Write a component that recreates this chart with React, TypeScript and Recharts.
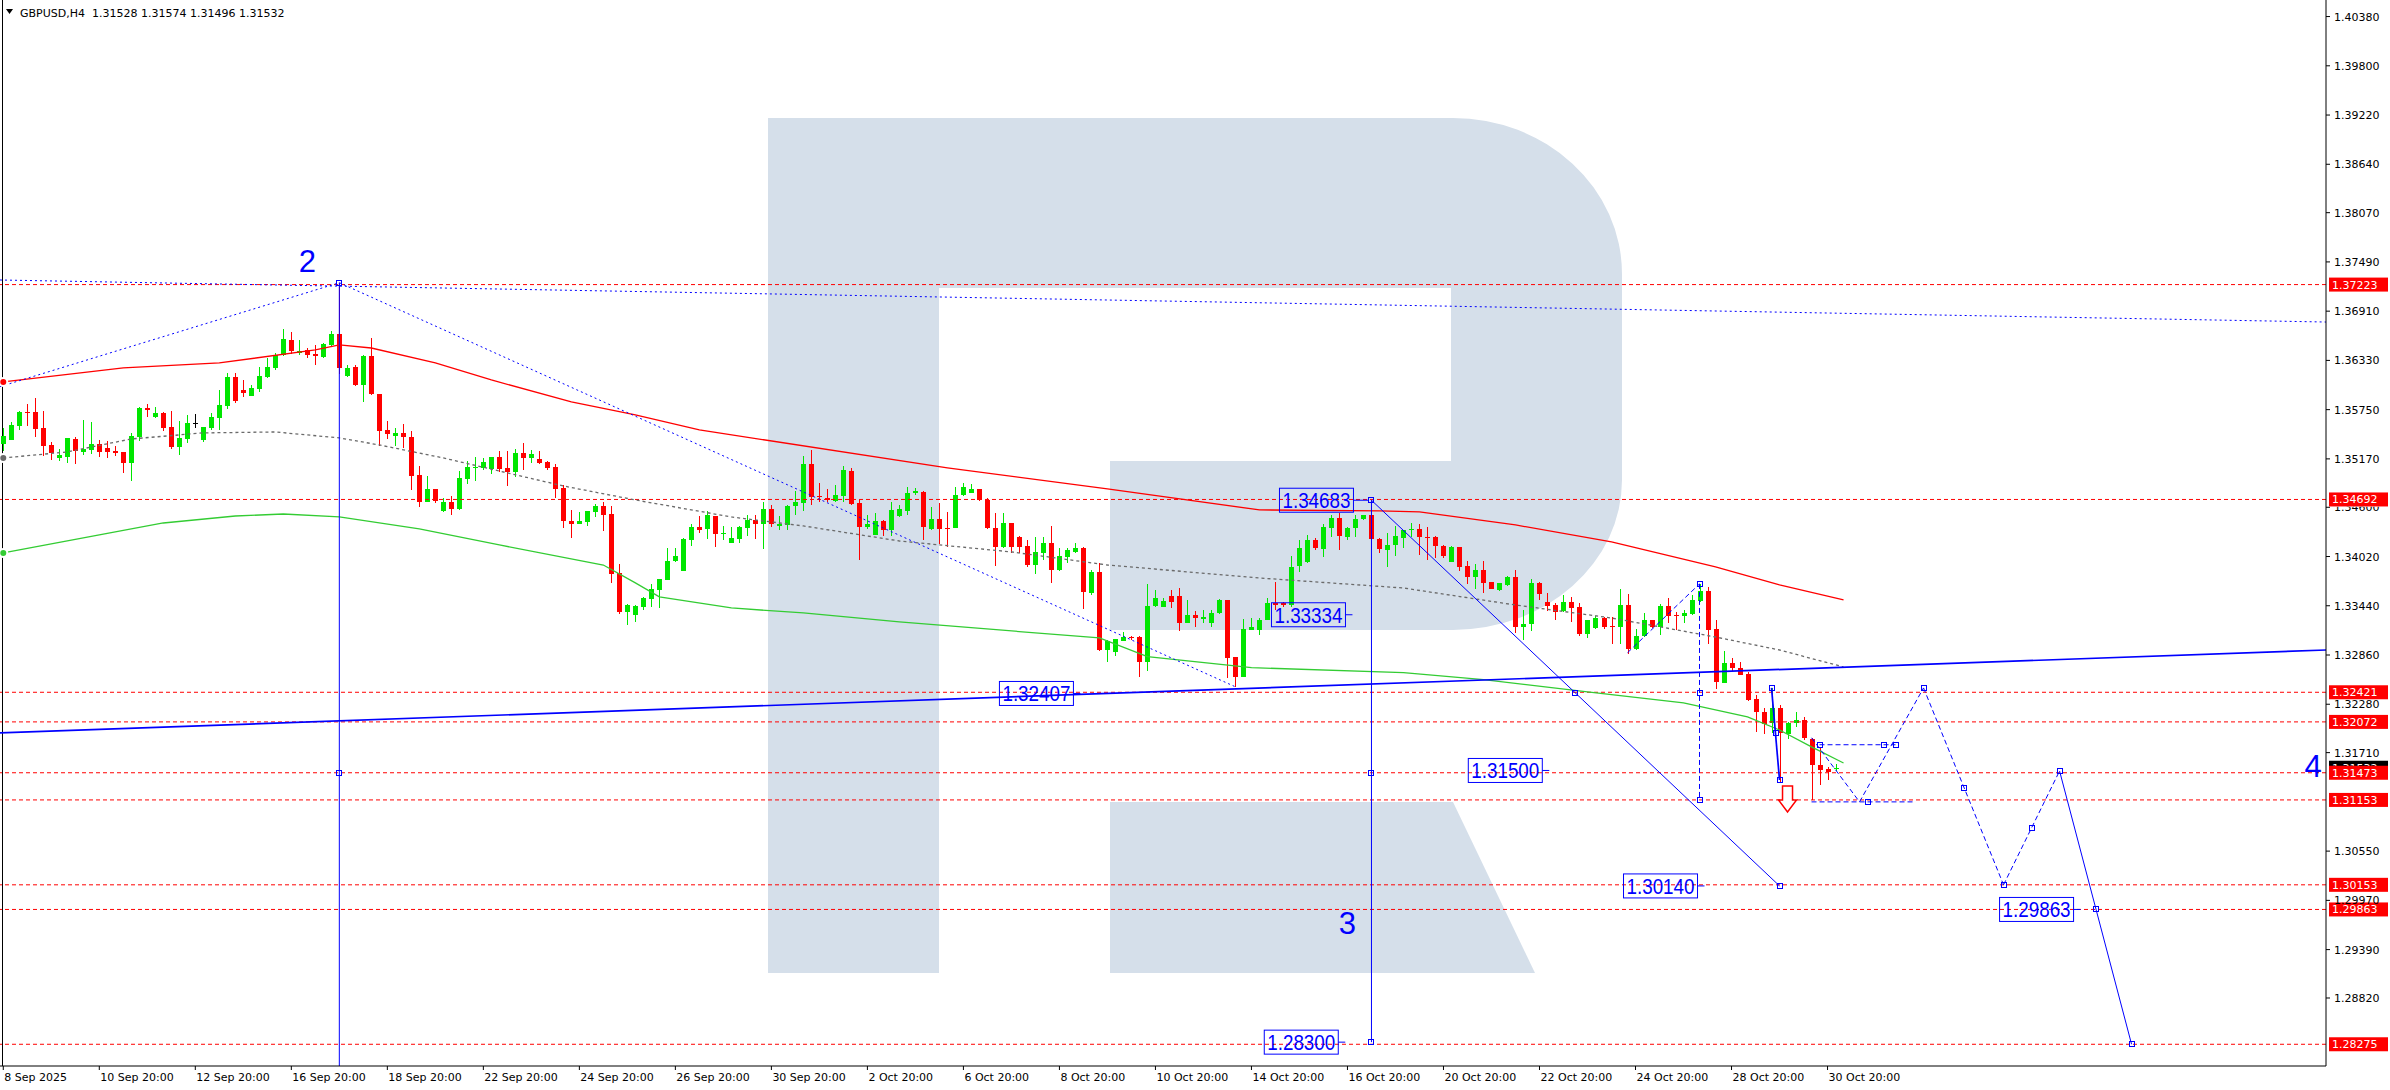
import React from "react";
import { ComposedChart, Bar, Line, XAxis, YAxis, ReferenceLine, ReferenceDot } from "recharts";

const OPEN = [
  1.35346,1.35393,1.35562,1.35723,1.35723,1.35534,1.35334,1.35184,1.35196,1.35400,
  1.35255,1.35279,1.35346,1.35298,1.35263,1.35251,1.35125,1.35432,1.35770,1.35668,
  1.35711,1.35546,1.35310,1.35408,1.35589,1.35393,1.35534,1.35656,1.35795,1.36137,
  1.35980,1.35913,1.35991,1.36137,1.36243,1.36384,1.36569,1.36412,1.36451,1.36404,
  1.36373,1.36510,1.36640,1.36145,1.36247,1.36038,1.36380,1.35932,1.35508,1.35429,
  1.35469,1.35428,1.34980,1.34665,1.34815,1.34559,1.34661,1.34579,1.34933,1.35066,
  1.35066,1.35051,1.35192,1.35062,1.35019,1.35239,1.35184,1.35168,1.35133,1.35074,
  1.34826,1.34441,1.34406,1.34426,1.34544,1.34614,1.34520,1.33824,1.33365,1.33329,
  1.33427,1.33518,1.33624,1.33742,1.33966,1.33852,1.34213,1.34367,1.34343,1.34500,
  1.34284,1.34182,1.34229,1.34359,1.34449,1.34406,1.34579,1.34379,1.34390,1.34614,
  1.34654,1.35109,1.34732,1.34709,1.34677,1.34736,1.35027,1.34650,1.34371,1.34272,
  1.34437,1.34335,1.34497,1.34556,1.34764,1.34776,1.34340,1.34458,1.34360,1.34360,
  1.34745,1.34764,1.34811,1.34686,1.34352,1.34128,1.34411,1.34253,1.34143,1.33911,
  1.34057,1.34175,1.33860,1.34010,1.34069,1.34116,1.33593,1.33841,1.32917,1.32890,
  1.33027,1.33074,1.33074,1.32780,1.33436,1.33428,1.33558,1.33558,1.33239,1.33330,
  1.33291,1.33239,1.33349,1.33507,1.32831,1.32595,1.33153,1.33153,1.33271,1.33475,
  1.33467,1.33448,1.33900,1.33959,1.34214,1.34116,1.34352,1.34470,1.34246,1.34352,
  1.34458,1.34509,1.34222,1.34096,1.34155,1.34241,1.34328,1.34343,1.34253,1.34245,
  1.34147,1.33958,1.34131,1.33907,1.33781,1.33860,1.33715,1.33616,1.33683,1.33781,
  1.33192,1.33223,1.33703,1.33479,1.33447,1.33369,1.33483,1.33428,1.33106,1.33180,
  1.33298,1.33204,1.33192,1.33447,1.32929,1.33086,1.33271,1.33184,1.33436,1.33330,
  1.33322,1.33341,1.33495,1.33612,1.33161,1.32536,1.32767,1.32709,1.32634,1.32339,
  1.32190,1.32054,1.32231,1.31936,1.32054,1.32093,1.31865,1.31563,1.31523,1.31528,
];
const HIGH = [
  1.35530,1.35609,1.35735,1.35817,1.35892,1.35735,1.35369,1.35286,1.35416,1.35432,
  1.35628,1.35605,1.35393,1.35377,1.35322,1.35251,1.35479,1.35786,1.35817,1.35778,
  1.35719,1.35735,1.35617,1.35687,1.35699,1.35546,1.35707,1.35982,1.36176,1.36176,
  1.36097,1.36038,1.36255,1.36353,1.36412,1.36695,1.36667,1.36569,1.36471,1.36510,
  1.36530,1.36679,1.37245,1.36274,1.36274,1.36392,1.36589,1.35940,1.35614,1.35539,
  1.35575,1.35499,1.35086,1.34968,1.34815,1.34705,1.34732,1.35031,1.35145,1.35188,
  1.35176,1.35192,1.35263,1.35263,1.35286,1.35357,1.35275,1.35263,1.35145,1.35109,
  1.34862,1.34567,1.34547,1.34559,1.34638,1.34665,1.34614,1.33930,1.33459,1.33447,
  1.33545,1.33695,1.33754,1.34119,1.34119,1.34237,1.34402,1.34496,1.34555,1.34500,
  1.34379,1.34367,1.34379,1.34508,1.34508,1.34657,1.34626,1.34500,1.34626,1.34795,
  1.35204,1.35275,1.34889,1.34815,1.34862,1.35090,1.35058,1.34685,1.34508,1.34532,
  1.34449,1.34665,1.34627,1.34843,1.34823,1.34792,1.34607,1.34647,1.34548,1.34835,
  1.34890,1.34870,1.34811,1.34705,1.34529,1.34529,1.34411,1.34261,1.34214,1.34253,
  1.34253,1.34379,1.34116,1.34116,1.34175,1.34136,1.33860,1.33939,1.33035,1.33043,
  1.33126,1.33082,1.33082,1.33695,1.33625,1.33526,1.33625,1.33644,1.33507,1.33381,
  1.33389,1.33389,1.33515,1.33507,1.32839,1.33279,1.33291,1.33291,1.33526,1.33723,
  1.33487,1.34025,1.34214,1.34273,1.34234,1.34403,1.34509,1.34529,1.34371,1.34509,
  1.34509,1.34683,1.34234,1.34292,1.34379,1.34332,1.34410,1.34402,1.34371,1.34261,
  1.34155,1.34143,1.34131,1.33966,1.33927,1.33966,1.33723,1.33703,1.33789,1.33860,
  1.33389,1.33754,1.33715,1.33585,1.33475,1.33565,1.33546,1.33475,1.33271,1.33318,
  1.33310,1.33310,1.33636,1.33577,1.33164,1.33357,1.33271,1.33455,1.33526,1.33369,
  1.33389,1.33565,1.33691,1.33664,1.33271,1.32905,1.32819,1.32779,1.32661,1.32394,
  1.32241,1.32467,1.32270,1.32074,1.32192,1.32125,1.31877,1.31779,1.31543,1.31574,
];
const LOW = [
  1.35255,1.35393,1.35511,1.35562,1.35432,1.35204,1.35157,1.35145,1.35125,1.35110,
  1.35216,1.35228,1.35192,1.35180,1.35208,1.35004,1.34913,1.35385,1.35668,1.35648,
  1.35499,1.35290,1.35216,1.35361,1.35538,1.35369,1.35511,1.35511,1.35755,1.35822,
  1.35901,1.35913,1.35960,1.36117,1.36215,1.36373,1.36412,1.36392,1.36353,1.36274,
  1.36353,1.36490,1.36176,1.36137,1.36031,1.35842,1.35921,1.35331,1.35398,1.35331,
  1.35292,1.34803,1.34606,1.34665,1.34646,1.34536,1.34508,1.34567,1.34874,1.34901,
  1.35039,1.34992,1.35019,1.34854,1.34952,1.35039,1.35117,1.35106,1.35039,1.34713,
  1.34351,1.34241,1.34406,1.34379,1.34481,1.34323,1.33710,1.33341,1.33211,1.33251,
  1.33388,1.33420,1.33416,1.33742,1.33954,1.33852,1.34143,1.34300,1.34229,1.34135,
  1.34213,1.34182,1.34182,1.34264,1.34229,1.34107,1.34371,1.34335,1.34335,1.34512,
  1.34559,1.34630,1.34665,1.34665,1.34665,1.34665,1.34618,1.33982,1.34339,1.34272,
  1.34264,1.34264,1.34481,1.34509,1.34745,1.34214,1.34332,1.34167,1.34135,1.34360,
  1.34737,1.34764,1.34666,1.34344,1.33900,1.34116,1.34057,1.34057,1.33900,1.33821,
  1.33978,1.33703,1.33841,1.33939,1.34057,1.33408,1.33566,1.32898,1.32780,1.32839,
  1.33027,1.33035,1.32603,1.32674,1.33428,1.33420,1.33408,1.33133,1.33232,1.33192,
  1.33232,1.33192,1.33342,1.32583,1.32485,1.32595,1.33153,1.33094,1.33271,1.33389,
  1.33428,1.33428,1.33841,1.33939,1.34096,1.34018,1.34253,1.34096,1.34214,1.34253,
  1.34450,1.34096,1.34057,1.33891,1.34025,1.34123,1.34241,1.34037,1.33986,1.34005,
  1.34005,1.33958,1.33852,1.33695,1.33636,1.33593,1.33636,1.33612,1.33675,1.33113,
  1.33035,1.33141,1.33506,1.33369,1.33271,1.33369,1.33251,1.33086,1.33062,1.33161,
  1.33172,1.32988,1.32984,1.32866,1.32917,1.33074,1.33172,1.33086,1.33231,1.33161,
  1.33231,1.33330,1.33475,1.32995,1.32457,1.32524,1.32661,1.32622,1.32316,1.31954,
  1.31934,1.31936,1.31366,1.31877,1.32015,1.31857,1.31150,1.31327,1.31386,1.31496,
];
const CLOSE = [
  1.35440,1.35569,1.35723,1.35715,1.35522,1.35326,1.35243,1.35216,1.35416,1.35255,
  1.35286,1.35346,1.35255,1.35255,1.35243,1.35125,1.35440,1.35770,1.35750,1.35711,
  1.35538,1.35310,1.35416,1.35593,1.35589,1.35546,1.35664,1.35805,1.36137,1.35850,
  1.35940,1.36007,1.36148,1.36255,1.36392,1.36577,1.36439,1.36439,1.36392,1.36384,
  1.36522,1.36640,1.36235,1.36243,1.36038,1.36380,1.35932,1.35500,1.35461,1.35469,
  1.35421,1.34968,1.34665,1.34815,1.34677,1.34665,1.34583,1.34944,1.35074,1.35078,
  1.35133,1.35192,1.35051,1.35019,1.35239,1.35184,1.35227,1.35125,1.35066,1.34815,
  1.34441,1.34406,1.34441,1.34559,1.34618,1.34508,1.33817,1.33365,1.33451,1.33439,
  1.33534,1.33636,1.33754,1.33966,1.34025,1.34225,1.34367,1.34331,1.34508,1.34288,
  1.34292,1.34241,1.34367,1.34449,1.34406,1.34579,1.34406,1.34402,1.34614,1.34661,
  1.35109,1.34724,1.34724,1.34685,1.34744,1.35039,1.34638,1.34371,1.34402,1.34437,
  1.34335,1.34567,1.34580,1.34764,1.34792,1.34363,1.34458,1.34344,1.34348,1.34745,
  1.34835,1.34811,1.34679,1.34352,1.34124,1.34411,1.34128,1.34136,1.33919,1.34069,
  1.34175,1.33860,1.34025,1.34096,1.34116,1.33593,1.33841,1.32917,1.33027,1.33043,
  1.33074,1.33059,1.32780,1.33436,1.33526,1.33499,1.33487,1.33239,1.33330,1.33291,
  1.33310,1.33357,1.33507,1.32819,1.32595,1.33161,1.33185,1.33271,1.33475,1.33448,
  1.33448,1.33900,1.34116,1.34214,1.34116,1.34371,1.34470,1.34253,1.34352,1.34458,
  1.34509,1.34222,1.34104,1.34155,1.34261,1.34332,1.34343,1.34253,1.34241,1.34135,
  1.34029,1.34131,1.33899,1.33781,1.33860,1.33711,1.33636,1.33703,1.33781,1.33192,
  1.33223,1.33703,1.33573,1.33436,1.33369,1.33479,1.33416,1.33106,1.33271,1.33298,
  1.33192,1.33192,1.33447,1.32929,1.33086,1.33271,1.33184,1.33436,1.33322,1.33322,
  1.33357,1.33506,1.33612,1.33153,1.32536,1.32767,1.32709,1.32630,1.32327,1.32190,
  1.32044,1.32231,1.31936,1.32062,1.32093,1.31877,1.31555,1.31504,1.31484,1.31532,
];

// moving averages, read at sample bars
const MA_RED_IDX = [0, 15, 27, 39, 42, 46, 54, 61, 71, 79, 87, 118, 138, 157, 172, 177, 189, 201, 214, 222, 230];
const MA_RED_VAL = [1.36076, 1.36241, 1.363, 1.36453, 1.36512, 1.36476, 1.363, 1.361, 1.35841, 1.35688, 1.35511, 1.35064, 1.34817, 1.34569, 1.34558, 1.34545, 1.34392, 1.34192, 1.33898, 1.33686, 1.33509];
const MA_GREEN_IDX = [0, 12, 20, 29, 35, 42, 52, 62, 75, 79, 82, 91, 100, 112, 137, 143, 156, 175, 185, 198, 210, 218, 222, 226, 230];
const MA_GREEN_VAL = [1.34062, 1.34274, 1.34415, 1.34497, 1.34521, 1.34486, 1.34345, 1.34156, 1.3392, 1.33709, 1.33544, 1.33414, 1.33355, 1.33249, 1.33061, 1.3284, 1.32711, 1.32652, 1.32569, 1.32425, 1.32295, 1.3213, 1.31977, 1.31777, 1.31588];
const MA_GRAY_IDX = [0, 8, 16, 25, 34, 42, 47, 55, 70, 79, 91, 100, 112, 126, 138, 157, 175, 189, 201, 214, 222, 230];
const MA_GRAY_VAL = [1.35181, 1.35252, 1.35405, 1.35476, 1.35487, 1.35417, 1.35334, 1.35181, 1.34851, 1.34686, 1.34486, 1.3438, 1.34203, 1.34074, 1.3392, 1.33767, 1.33649, 1.33449, 1.33296, 1.33072, 1.32919, 1.32719];

const X_TICKS = [0, 12, 24, 36, 48, 60, 72, 84, 96, 108, 120, 132, 144, 156, 168, 180, 192, 204, 216, 228];
const X_LABELS = ["8 Sep 2025", "10 Sep 20:00", "12 Sep 20:00", "16 Sep 20:00", "18 Sep 20:00", "22 Sep 20:00", "24 Sep 20:00", "26 Sep 20:00", "30 Sep 20:00", "2 Oct 20:00", "6 Oct 20:00", "8 Oct 20:00", "10 Oct 20:00", "14 Oct 20:00", "16 Oct 20:00", "20 Oct 20:00", "22 Oct 20:00", "24 Oct 20:00", "28 Oct 20:00", "30 Oct 20:00"];
const Y_TICKS = [1.4038, 1.398, 1.3922, 1.3864, 1.3807, 1.3749, 1.3691, 1.3633, 1.3575, 1.3517, 1.346, 1.3402, 1.3344, 1.3286, 1.3228, 1.3171, 1.3055, 1.2997, 1.2939, 1.2882];
const Y_TICK_HALF_HIDDEN = [1.346];

const LEVELS = [1.37223, 1.34692, 1.32421, 1.32072, 1.31473, 1.31153, 1.30153, 1.29863, 1.28275];
const CURRENT = 1.31532;

// drawn objects: [x1, y1, x2, y2] in bar index / price
const DOTTED_LINES = [[-0.41, 1.36021, 42, 1.37245], [42, 1.37245, 154, 1.32485], [-0.41, 1.37277, 290.3, 1.36782]];
const THICK_LINES = [[-0.41, 1.31942, 290.3, 1.32919], [221, 1.32472, 222, 1.31388]];
const THIN_LINES = [[42, 1.37245, 42, 1.27], [171, 1.34683, 171, 1.283], [171, 1.34683, 222, 1.3014], [257, 1.31494, 266, 1.28275]];
const DASHED_LINES = [[203, 1.32887, 212, 1.33697], [212, 1.33697, 212, 1.31155], [226, 1.31885, 232, 1.3113], [232, 1.3113, 240, 1.32472], [240, 1.32472, 250, 1.30153], [250, 1.30153, 257, 1.31494], [227, 1.31803, 236.5, 1.31803], [226, 1.3113, 239, 1.3113]];
const SQUARES = [[42, 1.37245], [42, 1.31467], [171, 1.34683], [171, 1.31473], [171, 1.283], [196.5, 1.32412], [222, 1.3014], [212, 1.33697], [212, 1.32413], [212, 1.31155], [221, 1.32472], [221.5, 1.31942], [222, 1.31388], [240, 1.32472], [245, 1.3129], [250, 1.30153], [253.5, 1.30824], [257, 1.31494], [261.5, 1.29863], [266, 1.28275], [233, 1.3113], [227, 1.31803], [235, 1.31803], [236.5, 1.31803]];
const BOX_X = [171, 169, 135, 193.6, 213, 260, 168.1];
const BOX_Y = [1.34683, 1.33334, 1.32407, 1.315, 1.3014, 1.29863, 1.283];
const BOX_TEXT = ["1.34683", "1.33334", "1.32407", "1.31500", "1.30140", "1.29863", "1.28300"];
const WAVE_X = [38, 168, 288.7];
const WAVE_Y = [1.37501, 1.297, 1.31556];
const WAVE_TEXT = ["2", "3", "4"];

const X_MIN = -0.41, X_MAX = 290.3;
const Y_MIN = 1.28019, Y_MAX = 1.40575;
const GREEN = "#00e600", RED = "#ff0000", BLUE = "#0000ff";
const FONT = "'DejaVu Sans', Verdana, sans-serif";

const data: any[] = [];
for (let i = 0; i <= 230; i++) {
  const row: any = { i };
  if (i < OPEN.length) { row.o = OPEN[i]; row.h = HIGH[i]; row.l = LOW[i]; row.c = CLOSE[i]; }
  data.push(row);
}
MA_RED_IDX.forEach((ix, k) => { data[ix].maR = MA_RED_VAL[k]; });
MA_GREEN_IDX.forEach((ix, k) => { data[ix].maG = MA_GREEN_VAL[k]; });
MA_GRAY_IDX.forEach((ix, k) => { data[ix].maK = MA_GRAY_VAL[k]; });

function Candle(props: any) {
  const { x, y, width, height, payload } = props;
  if (!payload || payload.o == null || x == null || y == null) return null;
  const { o, h, l, c } = payload;
  const k = h > l ? height / (h - l) : 0;
  const cx = Math.round(x + width / 2 - 0.5);
  const yO = y + (h - o) * k;
  const yC = y + (h - c) * k;
  const col = c > o ? GREEN : c < o ? RED : "#000000";
  const top = Math.round(Math.min(yO, yC));
  const bh = Math.max(1, Math.round(Math.abs(yC - yO)));
  return (
    <g shapeRendering="crispEdges">
      <rect x={cx} y={Math.round(y)} width={1} height={Math.max(1, Math.round(height))} fill={col} />
      <rect x={cx - 2} y={top} width={5} height={bh} fill={col} />
    </g>
  );
}

function XTick(props: any) {
  const { x, y, payload } = props;
  const idx = X_TICKS.indexOf(payload.value);
  return (
    <text x={x + 1} y={y + 9} fontFamily={FONT} fontSize={11} fill="#000" textAnchor="start">
      {idx >= 0 ? X_LABELS[idx] : ""}
    </text>
  );
}

function YTick(props: any) {
  const { y, payload } = props;
  const v = Number(payload.value);
  const half = Y_TICK_HALF_HIDDEN.indexOf(v) >= 0;
  const id = "clipTick" + Math.round(v * 100000);
  return (
    <g>
      {half && (
        <defs>
          <clipPath id={id}>
            <rect x={2328} y={y - 0.5} width={62} height={12} />
          </clipPath>
        </defs>
      )}
      <text x={2334} y={y + 4} fontFamily={FONT} fontSize={11} fill="#000" textAnchor="start" clipPath={half ? `url(#${id})` : undefined}>
        {v.toFixed(5)}
      </text>
    </g>
  );
}

const priceTag = (txt: string, bg: string) => (p: any) => (
  <g>
    <rect x={p.cx + 3} y={p.cy - 7} width={59} height={14} fill={bg} />
    <text x={p.cx + 6} y={p.cy + 4} fontFamily={FONT} fontSize={11} fill="#fff">{txt}</text>
  </g>
);

const square = (p: any) => (
  <rect x={Math.round(p.cx) - 2.5} y={Math.round(p.cy) - 2.5} width={5} height={5} fill="none" stroke={BLUE} strokeWidth={1} />
);

const boxShape = (txt: string, gap: number) => (p: any) => {
  const right = p.cx - gap;
  return (
    <g>
      <line x1={right} x2={p.cx - 3} y1={p.cy} y2={p.cy} stroke={BLUE} strokeWidth={1} />
      <rect x={right - 74} y={p.cy - 12} width={74} height={24} fill="none" stroke={BLUE} strokeWidth={1} />
      <text x={right - 37} y={p.cy + 8} textAnchor="middle" fontFamily="'Liberation Sans Narrow', 'Liberation Sans', Arial, sans-serif" fontSize={22} textLength={68} lengthAdjust="spacingAndGlyphs" fill={BLUE}>{txt}</text>
    </g>
  );
};

const waveShape = (txt: string) => (p: any) => (
  <text x={p.cx} y={p.cy + 11} textAnchor="middle" fontFamily="'Liberation Sans', Arial, sans-serif" fontSize={31} fill={BLUE}>{txt}</text>
);

const arrowShape = (p: any) => {
  const { cx, cy } = p;
  const pts = [[-5, -13], [5, -13], [5, 1], [9, 1], [0, 13], [-9, 1], [-5, 1]].map(([a, b]) => `${cx + a},${cy + b}`).join(" ");
  return <polygon points={pts} fill="#ffffff" stroke={RED} strokeWidth={1.5} />;
};

function Background() {
  return (
    <svg width={2390} height={1090} style={{ position: "absolute", left: 0, top: 0 }}>
      <rect x={0} y={0} width={2390} height={1090} fill="#ffffff" />
      <g fill="#d5dfea">
        <rect x={768} y={118} width={171} height={855} />
        <path d="M768,118 H1453 A169,156 0 0 1 1622,274 V480 A169,150 0 0 1 1453,630 H1110 V461 H1451 V288 H768 Z" />
        <path d="M1110,802 H1453 L1535,973 H1110 Z" />
      </g>
      <line x1={2.5} y1={0} x2={2.5} y2={1066} stroke="#000" strokeWidth={1} />
      <polygon points="6,9 13,9 9.5,14" fill="#000" />
      <text x={20} y={17} fontFamily={FONT} fontSize={11} fill="#000">{"GBPUSD,H4\u00a0\u00a01.31528 1.31574 1.31496 1.31532"}</text>
    </svg>
  );
}

export default function App() {
  return (
    <div style={{ position: "absolute", left: 0, top: 0, width: 2390, height: 1090, background: "#fff", overflow: "hidden" }}>
      <Background />
      <div style={{ position: "absolute", left: 0, top: 0 }}>
        <ComposedChart width={2390} height={1090} data={data} margin={{ top: 0, right: 0, bottom: 0, left: 0 }}>
          <XAxis dataKey="i" type="number" domain={[X_MIN, X_MAX]} allowDataOverflow ticks={X_TICKS} interval={0} height={24} tickSize={4} tickMargin={2} tick={XTick} axisLine={{ stroke: "#000" }} tickLine={{ stroke: "#000" }} />
          <YAxis type="number" orientation="right" domain={[Y_MIN, Y_MAX]} allowDataOverflow ticks={Y_TICKS} interval={0} width={64} tickSize={4} tick={YTick} axisLine={{ stroke: "#000" }} tickLine={{ stroke: "#000" }} />
          {LEVELS.map((p) => (
            <ReferenceLine key={"lv" + p} y={p} stroke={RED} strokeDasharray="4 3" strokeWidth={1} ifOverflow="hidden" />
          ))}
          <Bar dataKey={(d: any) => (d.h != null ? [d.l, d.h] : null)} barSize={5} shape={(p: any) => <Candle {...p} />} isAnimationActive={false} />
          <Line dataKey="maR" stroke={RED} strokeWidth={1.3} dot={false} connectNulls isAnimationActive={false} />
          <Line dataKey="maG" stroke="#33cc33" strokeWidth={1.3} dot={false} connectNulls isAnimationActive={false} />
          <Line dataKey="maK" stroke="#6a6a6a" strokeWidth={1.3} strokeDasharray="3 3" dot={false} connectNulls isAnimationActive={false} />
          {DOTTED_LINES.map((s, k) => (
            <ReferenceLine key={"dt" + k} segment={[{ x: s[0], y: s[1] }, { x: s[2], y: s[3] }]} stroke={BLUE} strokeWidth={1} strokeDasharray="2 3" ifOverflow="hidden" />
          ))}
          {THICK_LINES.map((s, k) => (
            <ReferenceLine key={"tk" + k} segment={[{ x: s[0], y: s[1] }, { x: s[2], y: s[3] }]} stroke={BLUE} strokeWidth={1.7} ifOverflow="hidden" />
          ))}
          {THIN_LINES.map((s, k) => (
            <ReferenceLine key={"tn" + k} segment={[{ x: s[0], y: s[1] }, { x: s[2], y: s[3] }]} stroke={BLUE} strokeWidth={1} ifOverflow="hidden" />
          ))}
          {DASHED_LINES.map((s, k) => (
            <ReferenceLine key={"ds" + k} segment={[{ x: s[0], y: s[1] }, { x: s[2], y: s[3] }]} stroke={BLUE} strokeWidth={1} strokeDasharray="5 3" ifOverflow="hidden" />
          ))}
          {SQUARES.map((s, k) => (
            <ReferenceDot key={"sq" + k} x={s[0]} y={s[1]} r={3} ifOverflow="visible" shape={square} />
          ))}
          {BOX_TEXT.map((t, k) => (
            <ReferenceDot key={"bx" + k} x={BOX_X[k]} y={BOX_Y[k]} r={3} ifOverflow="visible" shape={boxShape(t, k === 0 ? 18 : 10)} />
          ))}
          {WAVE_TEXT.map((t, k) => (
            <ReferenceDot key={"wv" + k} x={WAVE_X[k]} y={WAVE_Y[k]} r={3} ifOverflow="visible" shape={waveShape(t)} />
          ))}
          <ReferenceDot x={223} y={1.31164} r={3} ifOverflow="visible" shape={arrowShape} />
          <ReferenceDot x={X_MAX} y={CURRENT} r={3} ifOverflow="visible" shape={priceTag(CURRENT.toFixed(5), "#000000")} />
          {LEVELS.map((p) => (
            <ReferenceDot key={"tag" + p} x={X_MAX} y={p} r={3} ifOverflow="visible" shape={priceTag(p.toFixed(5), RED)} />
          ))}
        </ComposedChart>
      </div>
    </div>
  );
}
